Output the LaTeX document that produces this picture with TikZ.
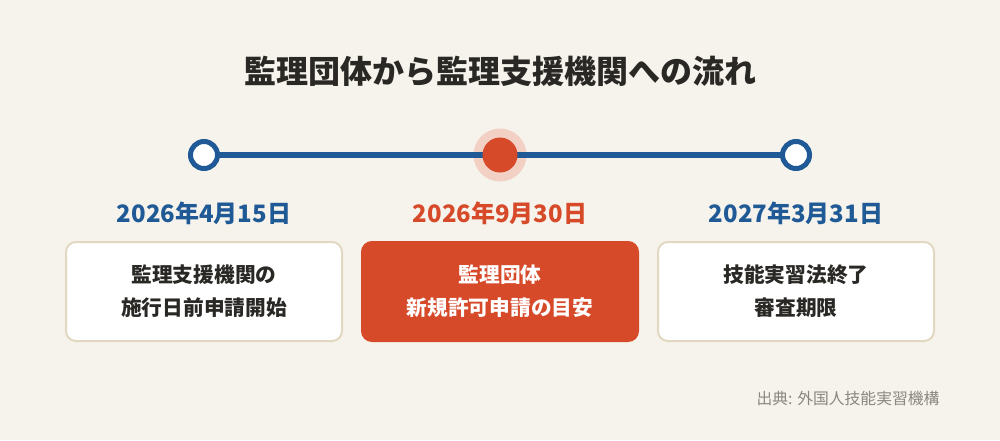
\documentclass[tikz,border=0pt]{standalone}
\usepackage{fontspec}
\setmainfont{Noto Sans CJK JP}
\definecolor{bg}{HTML}{F6F3EC}
\definecolor{navy}{HTML}{1F5A96}
\definecolor{accent}{HTML}{D64A2A}
\definecolor{halo}{HTML}{F2D0C4}
\definecolor{ink}{HTML}{2A2825}
\definecolor{frame}{HTML}{E2D8C2}
\definecolor{muted}{HTML}{8A8680}
\tikzset{
  titletext/.style={font=\fontsize{32}{36}\selectfont\bfseries, text=ink},
  datetext/.style={font=\fontsize{24}{28}\selectfont\bfseries},
  cardbox/.style={draw=frame, line width=2pt, fill=white, rounded corners=10pt,
    minimum width=276pt, minimum height=99pt, align=center,
    font=\fontsize{20.7}{33}\selectfont\bfseries, text=ink, inner sep=0pt},
  hotbox/.style={cardbox, draw=accent, fill=accent, text=white},
  opendot/.style={circle, draw=navy, line width=5pt, fill=white, minimum size=27pt, inner sep=0pt},
  hotdot/.style={circle, fill=accent, minimum size=35pt, inner sep=0pt},
  halodot/.style={circle, fill=halo, minimum size=53pt, inner sep=0pt},
  note/.style={font=\fontsize{15.8}{18}\selectfont, text=muted, anchor=east}
}
\begin{document}
\begin{tikzpicture}[x=1pt,y=-1pt]
\fill[bg] (0,0) rectangle (1000,440);
\useasboundingbox (0,0) rectangle (1000,440);
\node[titletext] (title) at (500,71) {監理団体から監理支援機関への流れ};
\node[halodot] (halo) at (500,155) {};
\coordinate (lineL) at (204,155);
\coordinate (lineR) at (796,155);
\draw[navy, line width=6pt] (lineL) -- (lineR);
\node[opendot] (d1) at (204,155) {};
\node[hotdot] (d2) at (500,155) {};
\node[opendot] (d3) at (796,155) {};
\node[datetext, text=navy] (t1) at (204,213) {2026年4月15日};
\node[datetext, text=accent] (t2) at (500,213) {2026年9月30日};
\node[datetext, text=navy] (t3) at (796,213) {2027年3月31日};
\node[cardbox] (b1) at (204,291.5) {監理支援機関の\\施行日前申請開始};
\node[hotbox] (b2) at (500,291.5) {監理団体\\新規許可申請の目安};
\node[cardbox] (b3) at (796,291.5) {技能実習法終了\\審査期限};
\node[note] (src) at (943,398) {出典: 外国人技能実習機構};
\end{tikzpicture}
\end{document}
